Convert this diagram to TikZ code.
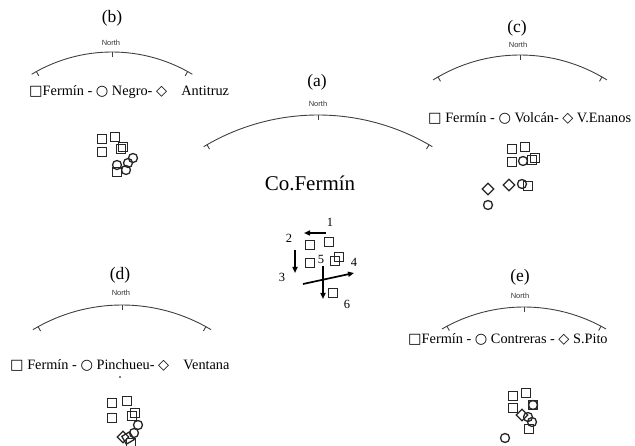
\documentclass[tikz,border=0pt]{standalone}
\usepackage{fontspec}
\setmainfont{Liberation Serif}
\newfontfamily\northfont{Liberation Sans}
\newfontfamily\symfont{DejaVu Sans}
\usetikzlibrary{shapes.geometric,arrows.meta,calc}
\newcommand\sqs{{\symfont □}}
\newcommand\cis{{\symfont ○}}
\newcommand\dis{{\symfont ◇}}
\newcommand\compass[6]{% name, cx, cy, R, A, T
  \coordinate (#1c) at (#2,-#3);
  \draw[arcline] ($(#1c)+(90+#5:#4pt)$) arc[start angle=90+#5, end angle=90-#5, radius=#4pt];
  \foreach \t in {-#6,0,#6} \draw[arcline] ($(#1c)+(90+\t:#4pt)$) -- ($(#1c)+(90+\t:#4pt-5pt)$);
}
\tikzset{
  arcline/.style={line width=0.9pt, draw=black!75},
  ttl/.style={font=\fontsize{17.5}{20}\selectfont, inner sep=0pt},
  nth/.style={font=\northfont\fontsize{7.5}{9}\selectfont, inner sep=0pt, text=black!80},
  leg/.style={font=\fontsize{14.3}{16}\selectfont, inner sep=0pt, anchor=west},
  num/.style={font=\fontsize{12.5}{14}\selectfont, inner sep=0pt},
  mk/.style={draw=black!85, line width=1.3pt, inner sep=0pt, fill=none},
  sqm/.style={mk, rectangle, minimum size=9pt},
  cim/.style={mk, circle, minimum size=9pt},
  dim/.style={mk, diamond, minimum size=12pt},
  arr/.style={line width=1.7pt, -{Triangle[length=6pt,width=5pt]}}
}
\begin{document}
\begin{tikzpicture}[x=1pt,y=1pt]
\useasboundingbox (0,0) rectangle (635,-446);
\fill[white] (0,0) rectangle (635,-446);

% ---------- (a) ----------
\node[ttl] (ta) at (317,-82) {(a)};
\node[nth] (na) at (318,-104) {North};
\compass{a}{318}{337}{222}{31}{30}
\node[font=\fontsize{21}{25}\selectfont, inner sep=0pt] (cof) at (310,-183) {Co.Fermín};
\node[sqm] (a1) at (310,-245) {};
\node[sqm] (a2) at (329,-242) {};
\node[sqm] (a3) at (310,-263) {};
\node[sqm] (a4) at (335,-261) {};
\node[sqm] (a4b) at (339,-257) {};
\node[sqm] (a6) at (333,-293) {};
\node[num] (l1) at (330,-222) {1};
\node[num] (l2) at (289,-238) {2};
\node[num] (l3) at (282,-277) {3};
\node[num] (l4) at (354,-262) {4};
\node[num] (l5) at (321,-259) {5};
\node[num] (l6) at (347,-304) {6};
\coordinate (p1s) at (326,-233);
\coordinate (p1e) at (304,-233);
\coordinate (p2s) at (295,-250);
\coordinate (p2e) at (295,-273);
\coordinate (p3s) at (303,-284);
\coordinate (p3e) at (354,-273);
\coordinate (p5s) at (323,-266);
\coordinate (p5e) at (323,-299);
\draw[arr] (p1s) -- (p1e);
\draw[arr] (p2s) -- (p2e);
\draw[arr] (p3s) -- (p3e);
\draw[arr] (p5s) -- (p5e);

% ---------- (b) ----------
\node[ttl] (tb) at (112,-18) {(b)};
\node[nth] (nb) at (111,-43) {North};
\compass{b}{112}{208}{156}{31}{29}
\node[leg] (lb) at (29,-92) {\sqs Fermín - \cis\ Negro- \dis\quad Antitruz};
\node[sqm] (b1) at (102,-139) {};
\node[sqm] (b2) at (115,-137) {};
\node[sqm] (b3) at (102,-152) {};
\node[sqm] (b4) at (121,-149) {};
\node[sqm] (b4b) at (123,-147) {};
\node[sqm] (b5) at (117,-172) {};
\node[cim] (b6) at (117,-165) {};
\node[cim] (b7) at (126,-170) {};
\node[cim] (b8) at (128,-163) {};
\node[cim] (b9) at (133,-158) {};

% ---------- (c) ----------
\node[ttl] (tc) at (517,-28) {(c)};
\node[nth] (nc) at (518,-45) {North};
\compass{c}{520}{219}{164}{32}{30}
\node[leg] (lc) at (428,-118) {\sqs\ Fermín - \cis\ Volcán- \dis\ V.Enanos};
\node[sqm] (c1) at (512,-149) {};
\node[sqm] (c2) at (525,-147) {};
\node[sqm] (c3) at (512,-162) {};
\node[sqm] (c4) at (532,-160) {};
\node[sqm] (c4b) at (535,-158) {};
\node[cim] (c5) at (523,-161) {};
\node[dim] (c6) at (509,-185) {};
\node[sqm] (c8) at (528,-186) {};
\node[cim] (c7) at (522,-184) {};
\node[dim] (c9) at (488,-189) {};
\node[cim] (c10) at (488,-205) {};

% ---------- (d) ----------
\node[ttl] (td) at (120,-275) {(d)};
\node[nth] (nd) at (121,-293) {North};
\compass{d}{122}{478}{173}{31}{29}
\node[leg] (ld) at (10,-365) {\sqs\ Fermín - \cis\ Pinchueu- \dis\quad Ventana};
\fill (120,-377) circle[radius=0.8pt];
\node[sqm] (d1) at (112,-403) {};
\node[sqm] (d2) at (127,-401) {};
\node[sqm] (d3) at (112,-418) {};
\node[sqm] (d4) at (132,-416) {};
\node[sqm] (d4b) at (135,-413) {};
\node[cim] (d5) at (138,-425) {};
\node[cim] (d6) at (134,-433) {};
\node[dim] (d7) at (123,-437) {};
\node[sqm, rotate=30] (d8) at (128,-438) {};
\node[sqm] (d9) at (131,-443) {};

% ---------- (e) ----------
\node[ttl] (te) at (520,-277) {(e)};
\node[nth] (ne) at (520,-296) {North};
\compass{e}{524}{471}{164}{30}{28}
\node[leg] (le) at (408,-339) {\sqs Fermín - \cis\ Contreras - \dis\ S.Pito};
\node[sqm] (e1) at (513,-396) {};
\node[sqm] (e2) at (526,-393) {};
\node[sqm] (e3) at (513,-408) {};
\node[sqm] (e4) at (533,-405) {};
\node[cim] (e4b) at (533,-405) {};
\node[dim] (e5) at (522,-415) {};
\node[cim] (e6) at (528,-417) {};
\node[cim] (e7) at (532,-422) {};
\node[sqm] (e8) at (529,-429) {};
\node[cim] (e9) at (505,-438) {};
\end{tikzpicture}
\end{document}
